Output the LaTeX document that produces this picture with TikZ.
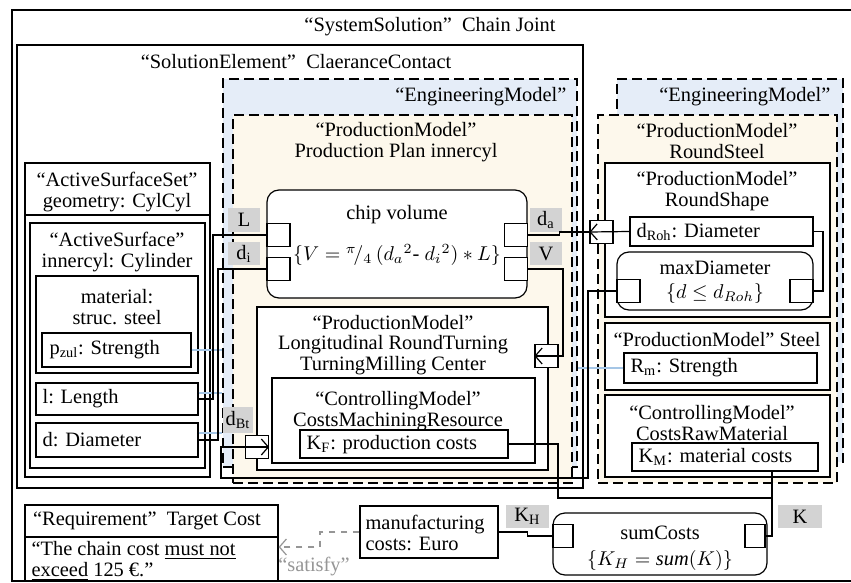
\documentclass[tikz,border=0pt]{standalone}
\usepackage{fontspec}
\setmainfont{Liberation Serif}
\usepackage{amsmath}
\usetikzlibrary{fit,arrows.meta}

\definecolor{engblue}{RGB}{229,237,248}
\definecolor{prodbeige}{RGB}{253,248,236}
\definecolor{taggray}{RGB}{211,211,211}
\definecolor{alloc}{RGB}{165,198,230}
\definecolor{satgray}{RGB}{150,150,150}

\tikzset{
  box/.style={draw, fill=white, inner sep=0pt},
  rbox/.style={box, rounded corners=6pt},
  model/.style={draw, dash pattern=on 5pt off 2.5pt, inner sep=0pt},
  port/.style={draw, fill=white, inner sep=0pt, minimum width=11.5pt, minimum height=11.5pt},
  tag/.style={fill=taggray, inner sep=0pt, minimum width=16pt, minimum height=11.8pt},
  txt/.style={inner sep=0pt, align=center},
  flow/.style={-{Straight Barb[length=3.5pt,width=8pt]}},
}

\begin{document}
\begin{tikzpicture}[x=0.5pt, y=-0.5pt, line width=0.6pt,
  every node/.style={font=\fontsize{10.2}{10.4}\selectfont}]
\useasboundingbox (0,0) rectangle (851,583);
\clip (0,0) rectangle (851,583);

% system and solution element
\node[box, fit={(12,10) (870,581)}] (sys) {};
\node[txt] (sysT) at (430,27) {“SystemSolution”\ \ Chain Joint};
\node[box, fit={(17,45) (583,488)}] (sol) {};
\node[txt] (solT) at (296,62) {“SolutionElement”\ \ ClaeranceContact};

% engineering models
\node[model, fill=engblue, fit={(223,79) (577,467)}] (engL) {};
\node[txt, anchor=east] (engLT) at (567,97) {“EngineeringModel”};
\node[model, fill=prodbeige, fit={(233,115) (572,483)}] (prodL) {};
\node[txt] (prodLT) at (396,142) {“ProductionModel”\\Production Plan innercyl};
\node[model, fill=engblue, fit={(617,79) (843,462)}] (engR) {};
\node[txt, anchor=east] (engRT) at (831,97) {“EngineeringModel”};
\node[model, fill=prodbeige, fit={(598,115) (837,483)}] (prodR) {};
\node[txt] (prodRT) at (717,141) {“ProductionModel”\\RoundSteel};

% active surfaces
\node[box, fit={(25,163) (210,477)}] (aset) {};
\draw (25,215) -- (210,215);
\node[txt] (asetT) at (117,192) {“ActiveSurfaceSet”\\geometry: CylCyl};
\node[box, fit={(30,223) (205,468)}] (asurf) {};
\node[txt] (asurfT) at (117,252) {“ActiveSurface”\\innercyl: Cylinder};
\node[box, fit={(36,276) (198,373)}] (mat) {};
\node[txt] (matT) at (117,307) {material:\\struc. steel};
\node[box, fit={(42,333) (191,367)}] (pzul) {};
\node[txt, anchor=west] (pzulT) at (49,350) {p\textsubscript{zul}: Strength};
\node[box, fit={(36,383) (198,415)}] (len) {};
\node[txt, anchor=west] (lenT) at (42,399) {l: Length};
\node[box, fit={(36,423) (198,457)}] (dia) {};
\node[txt, anchor=west] (diaT) at (42,440) {d: Diameter};

% production plan
\node[rbox, fit={(267,190) (527,298)}] (chip) {};
\node[txt] (chipT) at (397,215) {chip volume};
\node[txt] (chipF) at (397,255) {$\{V = {}^{\pi}\!/_{4}\,(d_a{}^{2}\text{- }d_i{}^{2}) \ast L\}$};
\node[port] (pL) at (278.5,235) {};
\node[port] (pDi) at (278.5,269) {};
\node[port] (pDa) at (516,235) {};
\node[port] (pV) at (516,269) {};
\node[box, fit={(257,307) (548,470)}] (turn) {};
\node[txt] (turnT) at (393,345) {“ProductionModel”\\Longitudinal RoundTurning\\TurningMilling Center};
\node[box, fit={(272,378) (535,463)}] (mach) {};
\node[txt] (machT) at (398,411) {“ControllingModel”\\CostsMachiningResource};
\node[box, fit={(300,430) (508,458)}] (kf) {};
\node[txt, anchor=west] (kfT) at (306,445) {K\textsubscript{F}: production costs};
\node[port] (pB) at (546.5,356) {};
\node[port] (pBt) at (257,447) {};

% round steel
\node[box, fit={(605,163) (830,317)}] (shape) {};
\node[txt] (shapeT) at (717,191) {“ProductionModel”\\RoundShape};
\node[box, fit={(630,217) (813,246)}] (droh) {};
\node[txt, anchor=west] (drohT) at (636,232) {d\textsubscript{Roh}: Diameter};
\node[rbox, fit={(617,252) (813,310)}] (maxd) {};
\node[txt] (maxdT) at (715,268) {maxDiameter};
\node[txt] (maxdF) at (715,293) {$\{d \le d_{Roh}\}$};
\node[port] (pMaxL) at (628.5,291) {};
\node[port] (pMaxR) at (801.5,291) {};
\node[port] (pA) at (601.5,232) {};
\node[box, fit={(605,323) (830,390)}] (steel) {};
\node[txt] (steelT) at (717,340) {“ProductionModel”\ Steel};
\node[box, fit={(624,353) (817,383)}] (rm) {};
\node[txt, anchor=west] (rmT) at (630,368) {R\textsubscript{m}: Strength};
\node[box, fit={(605,395) (830,477)}] (raw) {};
\node[txt] (rawT) at (712,423) {“ControllingModel”\\CostsRawMaterial};
\node[box, fit={(632,443) (818,471)}] (km) {};
\node[txt, anchor=west] (kmT) at (638,457) {K\textsubscript{M}: material costs};

% requirement and sum
\node[box, fit={(25,505) (278,581)}] (req) {};
\draw (25,537) -- (278,537);
\node[txt] (reqT) at (147,521) {“Requirement”\ \ Target Cost};
\node[txt, anchor=west, align=left] (reqB) at (31,561) {“The chain cost \underline{must not}\\\underline{exceed} 125 €.”};
\node[box, fit={(360,506) (498,558)}] (manu) {};
\node[txt, anchor=west, align=left] (manuT) at (365,533) {manufacturing\\costs: Euro};
\node[rbox, fit={(553,513) (767,575)}] (sum) {};
\node[txt] (sumT) at (660,533) {sumCosts};
\node[txt] (sumF) at (660,560) {$\{K_H = \mathit{sum}(K)\}$};
\node[port, minimum width=10pt] (pSumL) at (563,536) {};
\node[port, minimum width=10pt] (pSumR) at (755,536) {};

% tags
\node[tag] (tL) at (244,220) {L};
\node[tag] (tDi) at (244,253.5) {d\textsubscript{i}};
\node[tag] (tDa) at (546,220) {d\textsubscript{a}};
\node[tag] (tV) at (546,253.5) {V};
\node[tag, minimum width=15pt, minimum height=13pt] (tBt) at (238,420) {d\textsubscript{Bt}};
\node[tag, minimum width=21.5pt] (tKH) at (527.5,516.5) {K\textsubscript{H}};
\node[tag, minimum width=22pt] (tK) at (800,516.5) {K};

% allocations
\draw[alloc] (pzul.east) -- (pzul.east -| engL.west);
\draw[alloc] (len.east |- 0,393) -- (engL.west |- 0,393);
\draw[alloc] (dia.east |- 0,433) -- (engL.west |- 0,433);
\draw[alloc] (rm.west) -- (rm.west -| engL.east);

% bindings
\coordinate (kmOut) at (772,471);
\draw (pL.west) -| (213,399) -- (len.east);
\draw (pDi.west) -| (218,440) -- (dia.east);
\draw[flow] (pMaxL.west) -| (588,478) -| (221,447) -- (pBt.east);
\draw (pDa.east) -- ++(31,0) |- (pA.west);
\draw[flow] (droh.west) -- (pA.west);
\draw[flow] (pV.east) -| (563,356) -- (pB.west);
\draw (droh.east) -| (823,291) -- (pMaxR.east);
\draw (kf.east) -| (558,498) -- (772,498);
\draw (kmOut) |- (pSumR.east);
\draw (manu.east) -- ++(29,0) |- (pSumL.west);
\draw[satgray, dashed, flow] (manu.west) -| (320,547) -- (req.east |- 0,547);
\node[txt, text=satgray] (sat) at (314,567) {“satisfy”};
\end{tikzpicture}
\end{document}
